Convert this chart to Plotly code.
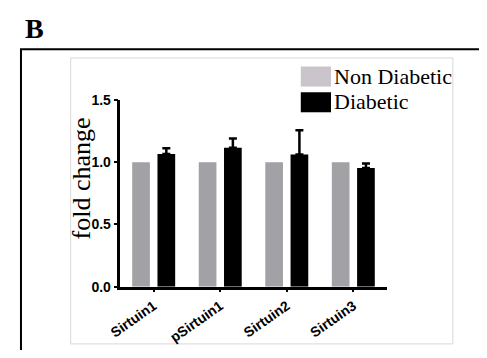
import plotly.graph_objects as go

categories = ["Sirtuin1", "pSirtuin1", "Sirtuin2", "Sirtuin3"]
non_diabetic = [1.0, 1.0, 1.0, 1.0]
diabetic = [1.066, 1.115, 1.061, 0.954]
diabetic_err = [0.046, 0.074, 0.196, 0.035]
ytick_vals = [0, 0.5, 1.0, 1.5]
ytick_text = ["0.0", "0.5", "1.0", "1.5"]

# The page keeps the browser's default 8px body margin, so the figure is
# sized to fit the 487x358 window exactly beside that margin.
OFF = 8
W, H = 487 - OFF, 358 - 2 * OFF


def px(x):
    return (x - OFF) / W


def py(y):
    return 1 - (y - OFF) / H


fig = go.Figure()
fig.add_trace(go.Bar(
    x=categories, y=non_diabetic, name="Non Diabetic",
    marker=dict(color="#a2a2a6", line=dict(width=0)),
))
fig.add_trace(go.Bar(
    x=categories, y=diabetic, name="Diabetic",
    marker=dict(color="#000000", line=dict(width=0)),
    error_y=dict(type="data", array=diabetic_err, arrayminus=[0] * 4,
                 symmetric=False, color="#000000", thickness=2.5, width=4),
))

shapes = [
    # outer black frame
    dict(type="rect", xref="paper", yref="paper",
         x0=px(9), x1=px(520), y0=py(43), y1=py(400),
         line=dict(color="#000000", width=2), fillcolor="rgba(0,0,0,0)", layer="below"),
    # inner light frame
    dict(type="rect", xref="paper", yref="paper",
         x0=px(60), x1=px(452), y0=py(52), y1=py(352),
         line=dict(color="#d8d8d8", width=1), fillcolor="rgba(0,0,0,0)", layer="below"),
    # legend swatches
    dict(type="rect", xref="paper", yref="paper",
         x0=px(296), x1=px(327), y0=py(61), y1=py(82),
         line=dict(width=0), fillcolor="#c9c5ca"),
    dict(type="rect", xref="paper", yref="paper",
         x0=px(296), x1=px(327), y0=py(88), y1=py(109),
         line=dict(width=0), fillcolor="#000000"),
]

serif = "Liberation Serif, Times New Roman, serif"
annotations = [
    dict(text="<b>B</b>", x=px(23), y=py(21), xref="paper", yref="paper",
         xanchor="center", yanchor="middle", showarrow=False,
         font=dict(family=serif, size=28, color="#000000")),
    dict(text="fold change", x=px(71), y=py(178), xref="paper", yref="paper",
         xanchor="center", yanchor="middle", showarrow=False, textangle=-90,
         font=dict(family=serif, size=26, color="#000000")),
    dict(text="Non Diabetic", x=px(328), y=py(71), xref="paper", yref="paper",
         xanchor="left", yanchor="middle", showarrow=False,
         font=dict(family=serif, size=22, color="#000000")),
    dict(text="Diabetic", x=px(328), y=py(98), xref="paper", yref="paper",
         xanchor="left", yanchor="middle", showarrow=False,
         font=dict(family=serif, size=22, color="#000000")),
]

tickfont = dict(family="Liberation Sans, Arial, sans-serif", size=14,
                color="#000000", weight="bold")

fig.update_layout(
    width=W, height=H,
    margin=dict(l=0, r=0, t=0, b=0),
    paper_bgcolor="#ffffff", plot_bgcolor="#ffffff",
    barmode="group", bargap=0.24, bargroupgap=0.30,
    showlegend=False,
    shapes=shapes, annotations=annotations,
    xaxis=dict(domain=[px(111), px(384)], range=[-0.5, 3.5],
               showline=True, linecolor="#000000", linewidth=2.5,
               ticks="outside", ticklen=3, tickwidth=1.5, tickcolor="#000000",
               tickangle=-35, tickfont=tickfont,
               showgrid=False, zeroline=False),
    yaxis=dict(domain=[py(292), py(96)], range=[0, 1.5],
               showline=True, linecolor="#000000", linewidth=2.5,
               ticks="outside", ticklen=4, tickwidth=2, tickcolor="#000000",
               tickvals=ytick_vals, ticktext=ytick_text, tickfont=tickfont,
               ticklabelstandoff=0,
               showgrid=False, zeroline=False),
)

fig.write_html("out.html", config={"displayModeBar": False})
